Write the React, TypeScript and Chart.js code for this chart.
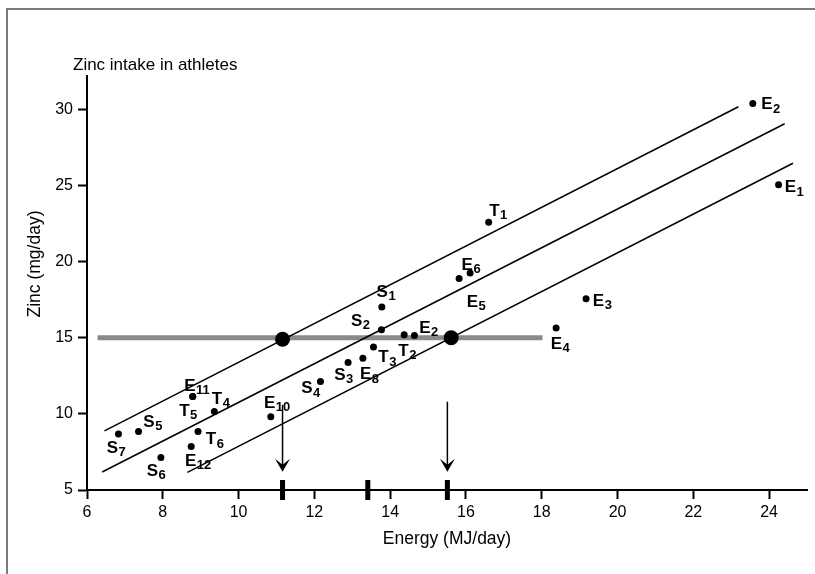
import React, { useEffect, useRef } from 'react';
import { Chart, registerables } from 'chart.js';

Chart.register(...registerables);

// ---- Data ----
const athleteLetters = ['E', 'E', 'T', 'E', 'E', 'S', 'S', 'E', 'T', 'T', 'E', 'S', 'S', 'E', 'E', 'E', 'E', 'T', 'T', 'T', 'E', 'S', 'S', 'S'];
const athleteSubscripts = ['2', '1', '1', '6', '5', '1', '2', '2', '2', '3', '8', '3', '4', '3', '4', '10', '11', '5', '4', '6', '12', '5', '7', '6'];
const athleteEnergy = [23.57, 24.25, 16.6, 16.11, 15.82, 13.78, 13.77, 14.64, 14.37, 13.56, 13.28, 12.89, 12.16, 19.17, 18.38, 10.85, 8.79, 8.79, 9.36, 8.93, 8.75, 7.36, 6.83, 7.95];
const athleteZinc = [30.4, 25.05, 22.59, 19.25, 18.9, 17.02, 15.53, 15.15, 15.2, 14.39, 13.66, 13.38, 12.13, 17.57, 15.64, 9.82, 11.14, 11.14, 10.15, 8.84, 7.85, 8.84, 8.68, 7.13];

const upperBandEnergy = [6.46, 23.19];
const upperBandZinc = [8.88, 30.18];
const middleBandEnergy = [6.4, 24.41];
const middleBandZinc = [6.18, 29.06];
const lowerBandEnergy = [8.65, 24.63];
const lowerBandZinc = [6.16, 26.47];

const referenceEnergy = [6.28, 18.02];
const referenceZinc = [15, 15];

const crossingEnergy = [11.16, 15.61];
const crossingZinc = [14.9, 15.0];

const arrowEnergy = [11.16, 15.51];
const arrowTopZinc = [10.6, 10.8];
const arrowTipZinc = [6.2, 6.2];
const axisMarkEnergy = [11.16, 13.41, 15.51];

const xTickValues = [6, 8, 10, 12, 14, 16, 18, 20, 22, 24];
const yTickValues = [5, 10, 15, 20, 25, 30];

const chartTitle = 'Zinc intake in athletes';
const xTitle = 'Energy (MJ/day)';
const yTitle = 'Zinc (mg/day)';

// ---- Layout (label offsets in pixels from each dot: ink left edge, cap centre) ----
const labelDx = [9.6, 7.4, 1.7, -7.3, 8.7, -4, -29.3, 6, -4.7, 6, -1.7, -12.7, -18, 8, -4.3, -5.7, -7.3, -12.3, -1.3, 9, -5, 6, -10.6, -13];
const labelDy = [0, 1.4, -12.7, -9.6, 22.1, -16.5, -10, -8.7, 14.7, 9, 15, 11.3, 5.6, 1, 14.7, -15, -12, 13.3, -14.2, 6.6, 13, -10.9, 12.7, 12];

const FONT = "'Liberation Sans', Arial, Helvetica, sans-serif";

const pts = (xs: number[], ys: number[]) => xs.map((x, i) => ({ x, y: ys[i] }));

const overlayPlugin = {
  id: 'overlay',
  afterDraw(chart: any) {
    const ctx = chart.ctx as CanvasRenderingContext2D;
    const xs = chart.scales.x;
    const ys = chart.scales.y;
    const area = chart.chartArea;
    ctx.save();

    // axis markers
    ctx.fillStyle = '#000';
    axisMarkEnergy.forEach((e) => {
      const px = xs.getPixelForValue(e);
      ctx.fillRect(px - 2.5, area.bottom - 10, 5, 20);
    });

    // arrows
    ctx.strokeStyle = '#000';
    ctx.lineWidth = 1.5;
    arrowEnergy.forEach((e, i) => {
      const px = xs.getPixelForValue(e);
      const top = ys.getPixelForValue(arrowTopZinc[i]);
      const tip = ys.getPixelForValue(arrowTipZinc[i]);
      ctx.beginPath();
      ctx.moveTo(px, top);
      ctx.lineTo(px, tip - 6);
      ctx.stroke();
      ctx.beginPath();
      ctx.moveTo(px, tip);
      ctx.lineTo(px - 7.5, tip - 13);
      ctx.lineTo(px, tip - 7);
      ctx.lineTo(px + 7.5, tip - 13);
      ctx.closePath();
      ctx.fill();
    });

    // point labels
    ctx.textBaseline = 'alphabetic';
    ctx.textAlign = 'left';
    athleteLetters.forEach((letter, i) => {
      const px = xs.getPixelForValue(athleteEnergy[i]);
      const py = ys.getPixelForValue(athleteZinc[i]);
      const x = px + labelDx[i] - 1.2;
      const base = py + labelDy[i] + 6.1;
      ctx.font = `bold 17px ${FONT}`;
      ctx.fillText(letter, x, base);
      const w = ctx.measureText(letter).width;
      ctx.font = `bold 13px ${FONT}`;
      ctx.fillText(athleteSubscripts[i], x + w + 0.5, base + 3.5);
    });

    // titles
    ctx.font = `17px ${FONT}`;
    ctx.fillText(chartTitle, 73, 70);

    ctx.font = `17.5px ${FONT}`;
    ctx.textAlign = 'center';
    ctx.fillText(xTitle, (area.left + area.right) / 2, 544);

    ctx.translate(35, 264);
    ctx.rotate(-Math.PI / 2);
    ctx.textBaseline = 'middle';
    ctx.fillText(yTitle, 0, 0);

    ctx.restore();
  },
};

export default function App() {
  const canvasRef = useRef<HTMLCanvasElement | null>(null);

  useEffect(() => {
    const canvas = canvasRef.current;
    if (!canvas) return;
    const tickFont = { family: FONT, size: 16 };
    const chart = new Chart(canvas, {
      type: 'scatter',
      data: {
        datasets: [
          {
            label: 'athletes',
            data: pts(athleteEnergy, athleteZinc),
            backgroundColor: '#000',
            borderColor: '#000',
            pointRadius: 3.5,
            pointBorderWidth: 0,
            order: 0,
          },
          {
            label: 'crossings',
            data: pts(crossingEnergy, crossingZinc),
            backgroundColor: '#000',
            borderColor: '#000',
            pointRadius: 7.5,
            pointBorderWidth: 0,
            order: 1,
          },
          ...[
            [upperBandEnergy, upperBandZinc],
            [middleBandEnergy, middleBandZinc],
            [lowerBandEnergy, lowerBandZinc],
          ].map(([ex, zy], k) => ({
            type: 'line' as const,
            label: 'band' + k,
            data: pts(ex, zy),
            borderColor: '#000',
            borderWidth: 1.5,
            pointRadius: 0,
            showLine: true,
            fill: false,
            order: 2,
          })),
          {
            type: 'line' as const,
            label: 'reference',
            data: pts(referenceEnergy, referenceZinc),
            borderColor: '#8a8a8a',
            borderWidth: 5,
            pointRadius: 0,
            showLine: true,
            fill: false,
            order: 3,
          },
        ] as any,
      },
      options: {
        animation: false,
        responsive: false,
        events: [],
        layout: { padding: { left: 0, right: 8, top: 76, bottom: 0 } },
        plugins: { legend: { display: false }, tooltip: { enabled: false }, title: { display: false } },
        scales: {
          x: {
            type: 'linear',
            min: 6,
            max: 25,
            afterBuildTicks: (s: any) => {
              s.ticks = xTickValues.map((v) => ({ value: v }));
            },
            afterFit: (s: any) => {
              s.height = 84;
            },
            ticks: { color: '#000', font: tickFont, padding: 4, maxRotation: 0, autoSkip: false },
            grid: { display: true, drawOnChartArea: false, drawTicks: true, tickLength: 9, tickWidth: 2, tickColor: '#000' },
            border: { display: true, color: '#000', width: 2 },
          },
          y: {
            type: 'linear',
            min: 5,
            max: 32.2,
            afterBuildTicks: (s: any) => {
              s.ticks = yTickValues.map((v) => ({ value: v }));
            },
            afterFit: (s: any) => {
              s.width = 87;
            },
            ticks: { color: '#000', font: tickFont, padding: 5, autoSkip: false },
            grid: { display: true, drawOnChartArea: false, drawTicks: true, tickLength: 9, tickWidth: 2, tickColor: '#000' },
            border: { display: true, color: '#000', width: 2 },
          },
        },
      } as any,
      plugins: [overlayPlugin],
    });
    return () => chart.destroy();
  }, []);

  return (
    <div style={{ position: 'absolute', left: 0, top: 0, width: 815, height: 574, background: '#fff' }}>
      <div
        style={{
          position: 'absolute',
          left: 6,
          top: 8,
          width: 809,
          height: 566,
          borderTop: '2px solid #7a7a7a',
          borderLeft: '2px solid #7a7a7a',
          boxSizing: 'border-box',
        }}
      />
      <canvas ref={canvasRef} width={815} height={574} style={{ position: 'absolute', left: 0, top: 0, width: 815, height: 574 }} />
    </div>
  );
}
